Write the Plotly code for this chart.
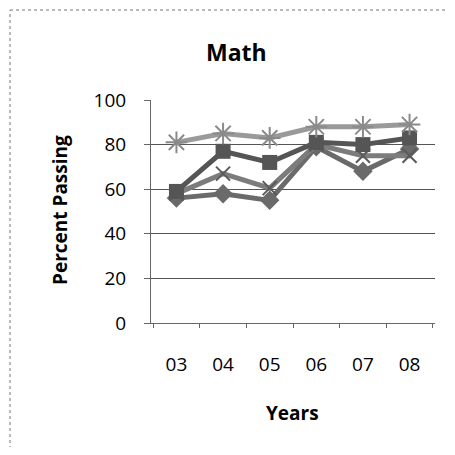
import plotly.graph_objects as go

years = ["03", "04", "05", "06", "07", "08"]
diamond_vals = [56, 58, 55, 79, 68, 78]
square_vals = [59, 77, 72, 81, 80, 83]
x_vals = [58, 67, 60.5, 80, 75, 75]
star_vals = [81, 85, 83, 88, 88, 89]
y_ticks = [0, 20, 40, 60, 80, 100]

FONT = "Open Sans"
OFF = 8  # default page body margin
W = H = 455 - 2 * OFF
L, R, T, B = 151 - OFF, 435 - OFF, 100 - OFF, 323 - OFF


def px(x):
    return (x - OFF - L) / (R - L)


def py(y):
    return (B - (y - OFF)) / (B - T)


fig = go.Figure()
fig.add_trace(go.Scatter(x=years, y=diamond_vals, mode="lines+markers",
                         line=dict(color="#6a6a6a", width=5),
                         marker=dict(symbol="diamond", size=15, color="#6a6a6a")))
fig.add_trace(go.Scatter(x=years, y=x_vals, mode="lines+markers",
                         line=dict(color="#7c7c7c", width=5),
                         marker=dict(symbol="x-thin-open", size=14, color="#5a5a5a",
                                     line=dict(width=2, color="#5a5a5a"))))
fig.add_trace(go.Scatter(x=years, y=square_vals, mode="lines+markers",
                         line=dict(color="#555555", width=5),
                         marker=dict(symbol="square", size=15, color="#555555")))
fig.add_trace(go.Scatter(x=years, y=star_vals, mode="lines+markers",
                         line=dict(color="#9a9a9a", width=5),
                         marker=dict(symbol="asterisk-open", size=18, color="#8a8a8a",
                                     line=dict(width=2, color="#8a8a8a"))))

fig.update_layout(
    template="none",
    width=W, height=H,
    margin=dict(l=L, r=W - R, t=T, b=H - B, pad=0),
    paper_bgcolor="white", plot_bgcolor="white",
    showlegend=False,
    font=dict(family=FONT, color="black"),
    xaxis=dict(type="category", automargin=False, showgrid=False, showline=True,
               linecolor="#666666", linewidth=1, ticks="outside", tickson="boundaries",
               ticklen=4, tickcolor="#666666", tickfont=dict(size=19, family=FONT),
               ticklabelstandoff=24, zeroline=False),
    yaxis=dict(range=[0, 100], automargin=False, tickvals=y_ticks, showgrid=True,
               gridcolor="#555555", gridwidth=1, showline=True, linecolor="#666666",
               linewidth=1, ticks="outside", ticklen=6, tickcolor="#666666",
               tickfont=dict(size=19, family=FONT), ticklabelstandoff=14,
               zeroline=False),
    annotations=[
        dict(text="<b>Math</b>", x=px(236), y=py(52), xref="paper", yref="paper",
             showarrow=False, font=dict(size=23, family=FONT), xanchor="center", yanchor="middle"),
        dict(text="<b>Years</b>", x=px(292), y=py(413), xref="paper", yref="paper",
             showarrow=False, font=dict(size=19, family=FONT), xanchor="center", yanchor="middle"),
        dict(text="<b>Percent Passing</b>", x=px(60), y=py(210), xref="paper", yref="paper",
             showarrow=False, textangle=-90, font=dict(size=19, family=FONT),
             xanchor="center", yanchor="middle"),
    ],
    shapes=[
        dict(type="line", xref="paper", yref="paper",
             x0=px(10), x1=px(10), y0=py(455), y1=py(10),
             line=dict(color="#777777", width=1, dash="dot")),
        dict(type="line", xref="paper", yref="paper",
             x0=px(10), x1=px(455), y0=py(10), y1=py(10),
             line=dict(color="#777777", width=1, dash="dot")),
    ],
)

fig.write_html("out.html")
